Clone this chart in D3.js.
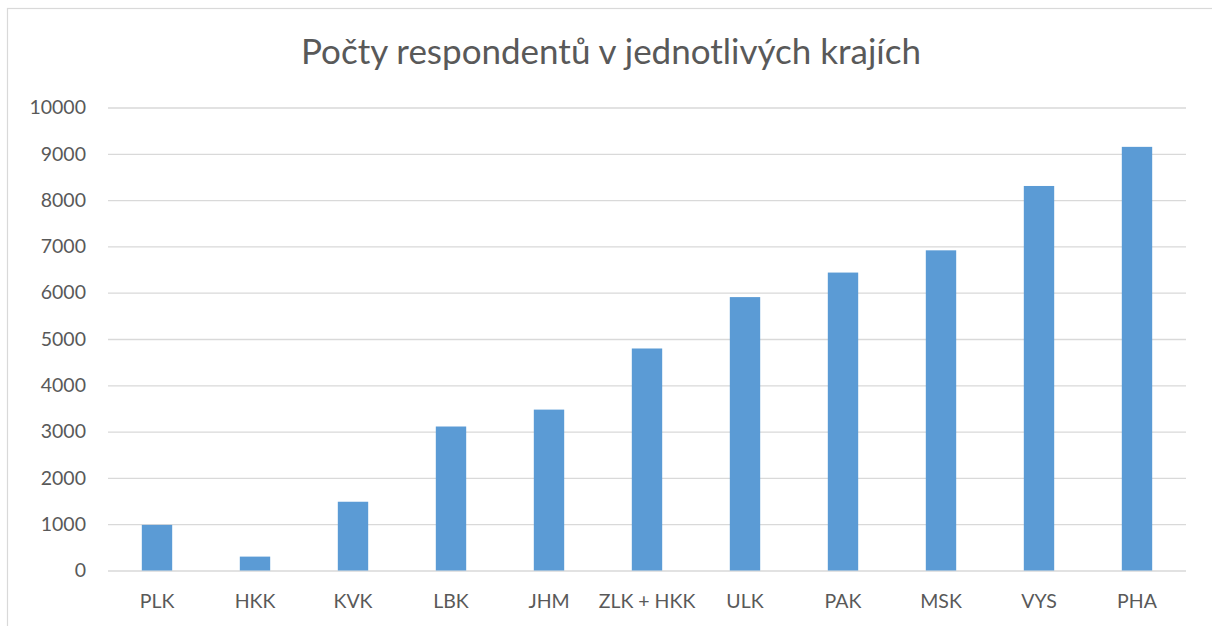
<!DOCTYPE html>
<html><head><meta charset="utf-8">
<script src="https://cdn.jsdelivr.net/npm/d3@7"></script>
<style>body{margin:0;background:#fff}svg{display:block}</style>
</head><body>
<script>
const categories = ["PLK","HKK","KVK","LBK","JHM","ZLK + HKK","ULK","PAK","MSK","VYS","PHA"];
const values = [985, 300, 1485, 3110, 3475, 4795, 5905, 6435, 6915, 8305, 9150];
const yTicks = [0,1000,2000,3000,4000,5000,6000,7000,8000,9000,10000];
const title = "Počty respondentů v jednotlivých krajích";

const W = 1212, H = 626;
const m = {left:108, right:1186, top:107.5, bottom:570.5};
const svg = d3.select("body").append("svg").attr("width",W).attr("height",H);
const font = "Lato, 'Open Sans', sans-serif";

svg.append("rect").attr("x",7.5).attr("y",8.5).attr("width",1220).attr("height",640)
  .attr("fill","#fff").attr("stroke","#d9d9d9").attr("stroke-width",1.2);

const x = d3.scaleBand().domain(categories).range([m.left,m.right]).paddingInner(0.69).paddingOuter(0.345);
const y = d3.scaleLinear().domain([0,10000]).range([m.bottom,m.top]);

const yAxis = svg.append("g").attr("transform",`translate(${m.left},0)`)
  .call(d3.axisLeft(y).tickValues(yTicks).tickSize(-(m.right-m.left)).tickPadding(22).tickFormat(d3.format("d")));
yAxis.select(".domain").remove();
yAxis.selectAll(".tick line").attr("stroke","#d9d9d9").attr("stroke-width",1.3);
yAxis.selectAll(".tick text").attr("fill","#595959").style("font-family",font).style("font-size","19.5px");

svg.append("g").selectAll("rect").data(values).join("rect")
  .attr("x",(d,i)=>x(categories[i])).attr("width",x.bandwidth())
  .attr("y",d=>y(d)).attr("height",d=>y(0)-y(d)).attr("fill","#5b9bd5");

const xAxis = svg.append("g").attr("transform",`translate(0,${m.bottom})`)
  .call(d3.axisBottom(x).tickSize(0).tickPadding(24));
xAxis.select(".domain").remove();
xAxis.selectAll(".tick text").attr("fill","#595959").style("font-family",font).style("font-size","19.5px");

svg.append("text").attr("x",611).attr("y",64).attr("text-anchor","middle")
  .attr("fill","#595959").style("font-family",font).style("font-size","35px").text(title);
</script>
</body></html>
